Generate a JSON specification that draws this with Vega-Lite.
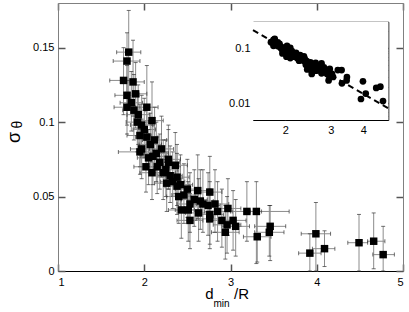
{
  "$schema": "https://vega.github.io/schema/vega-lite/v6.json",
  "autosize": {"type": "none"},
  "width": 345,
  "height": 268,
  "padding": {"left": 58, "top": 3, "right": 6, "bottom": 41},
  "background": "white",
  "config": {
    "view": {"stroke": null},
    "axis": {"labelFont": "Liberation Sans", "titleFont": "Liberation Sans", "labelColor": "#000", "titleColor": "#000", "grid": false, "titleFontWeight": "normal", "domainColor": "#808080", "labelFontSize": 11}
  },
  "datasets": {
    "d": [
      {"x": 1.82, "y": 0.147, "xl": 1.68, "xh": 1.96, "yl": 0.120, "yh": 0.175},
      {"x": 1.80, "y": 0.141, "xl": 1.64, "xh": 1.95, "yl": 0.118, "yh": 0.160},
      {"x": 1.76, "y": 0.128, "xl": 1.60, "xh": 1.88, "yl": 0.105, "yh": 0.150},
      {"x": 1.87, "y": 0.127, "xl": 1.74, "xh": 2.00, "yl": 0.104, "yh": 0.155},
      {"x": 1.80, "y": 0.118, "xl": 1.66, "xh": 1.94, "yl": 0.098, "yh": 0.138},
      {"x": 1.90, "y": 0.119, "xl": 1.78, "xh": 2.03, "yl": 0.096, "yh": 0.140},
      {"x": 1.80, "y": 0.110, "xl": 1.65, "xh": 1.95, "yl": 0.092, "yh": 0.128},
      {"x": 1.88, "y": 0.108, "xl": 1.75, "xh": 2.01, "yl": 0.088, "yh": 0.132},
      {"x": 1.93, "y": 0.105, "xl": 1.80, "xh": 2.06, "yl": 0.085, "yh": 0.125},
      {"x": 2.03, "y": 0.110, "xl": 1.90, "xh": 2.16, "yl": 0.090, "yh": 0.138},
      {"x": 1.97, "y": 0.098, "xl": 1.84, "xh": 2.10, "yl": 0.078, "yh": 0.118},
      {"x": 2.09, "y": 0.101, "xl": 1.96, "xh": 2.22, "yl": 0.079, "yh": 0.127},
      {"x": 1.95, "y": 0.091, "xl": 1.80, "xh": 2.08, "yl": 0.070, "yh": 0.112},
      {"x": 2.03, "y": 0.090, "xl": 1.90, "xh": 2.16, "yl": 0.072, "yh": 0.110},
      {"x": 1.97, "y": 0.082, "xl": 1.84, "xh": 2.10, "yl": 0.062, "yh": 0.102},
      {"x": 2.07, "y": 0.085, "xl": 1.94, "xh": 2.20, "yl": 0.066, "yh": 0.106},
      {"x": 2.14, "y": 0.079, "xl": 2.00, "xh": 2.28, "yl": 0.060, "yh": 0.100},
      {"x": 2.05, "y": 0.076, "xl": 1.92, "xh": 2.18, "yl": 0.058, "yh": 0.095},
      {"x": 2.28, "y": 0.075, "xl": 2.14, "xh": 2.42, "yl": 0.055, "yh": 0.098},
      {"x": 1.95, "y": 0.080, "xl": 1.70, "xh": 2.10, "yl": 0.065, "yh": 0.095},
      {"x": 2.18, "y": 0.073, "xl": 2.05, "xh": 2.31, "yl": 0.055, "yh": 0.092},
      {"x": 2.28, "y": 0.073, "xl": 2.15, "xh": 2.41, "yl": 0.055, "yh": 0.095},
      {"x": 2.36, "y": 0.071, "xl": 2.22, "xh": 2.50, "yl": 0.052, "yh": 0.093},
      {"x": 2.09, "y": 0.066, "xl": 1.95, "xh": 2.23, "yl": 0.048, "yh": 0.085},
      {"x": 2.22, "y": 0.066, "xl": 2.08, "xh": 2.36, "yl": 0.048, "yh": 0.088},
      {"x": 2.30, "y": 0.064, "xl": 2.16, "xh": 2.44, "yl": 0.046, "yh": 0.084},
      {"x": 2.38, "y": 0.063, "xl": 2.24, "xh": 2.52, "yl": 0.044, "yh": 0.085},
      {"x": 2.26, "y": 0.059, "xl": 2.12, "xh": 2.40, "yl": 0.040, "yh": 0.080},
      {"x": 2.38, "y": 0.057, "xl": 2.24, "xh": 2.52, "yl": 0.038, "yh": 0.079},
      {"x": 2.46, "y": 0.051, "xl": 2.32, "xh": 2.60, "yl": 0.032, "yh": 0.072},
      {"x": 2.62, "y": 0.054, "xl": 2.48, "xh": 2.76, "yl": 0.035, "yh": 0.078},
      {"x": 2.76, "y": 0.053, "xl": 2.62, "xh": 2.90, "yl": 0.034, "yh": 0.077},
      {"x": 2.53, "y": 0.045, "xl": 2.38, "xh": 2.68, "yl": 0.026, "yh": 0.066},
      {"x": 2.43, "y": 0.041, "xl": 2.28, "xh": 2.58, "yl": 0.022, "yh": 0.062},
      {"x": 2.51, "y": 0.041, "xl": 2.36, "xh": 2.66, "yl": 0.020, "yh": 0.060},
      {"x": 2.63, "y": 0.039, "xl": 2.48, "xh": 2.78, "yl": 0.020, "yh": 0.062},
      {"x": 2.68, "y": 0.045, "xl": 2.54, "xh": 2.82, "yl": 0.026, "yh": 0.068},
      {"x": 2.74, "y": 0.044, "xl": 2.60, "xh": 2.88, "yl": 0.024, "yh": 0.066},
      {"x": 2.82, "y": 0.045, "xl": 2.66, "xh": 2.98, "yl": 0.026, "yh": 0.068},
      {"x": 2.76, "y": 0.038, "xl": 2.60, "xh": 2.92, "yl": 0.018, "yh": 0.060},
      {"x": 2.76, "y": 0.035, "xl": 2.60, "xh": 2.92, "yl": 0.015, "yh": 0.055},
      {"x": 2.53, "y": 0.034, "xl": 2.38, "xh": 2.68, "yl": 0.015, "yh": 0.052},
      {"x": 2.97, "y": 0.042, "xl": 2.82, "xh": 3.12, "yl": 0.024, "yh": 0.062},
      {"x": 2.90, "y": 0.034, "xl": 2.74, "xh": 3.06, "yl": 0.016, "yh": 0.055},
      {"x": 2.96, "y": 0.031, "xl": 2.80, "xh": 3.12, "yl": 0.012, "yh": 0.050},
      {"x": 3.03, "y": 0.034, "xl": 2.88, "xh": 3.18, "yl": 0.014, "yh": 0.054},
      {"x": 3.06, "y": 0.030, "xl": 2.90, "xh": 3.22, "yl": 0.010, "yh": 0.048},
      {"x": 2.94, "y": 0.026, "xl": 2.78, "xh": 3.10, "yl": 0.008, "yh": 0.044},
      {"x": 3.19, "y": 0.040, "xl": 3.02, "xh": 3.36, "yl": 0.020, "yh": 0.060},
      {"x": 3.30, "y": 0.040, "xl": 3.23, "xh": 3.68, "yl": 0.005, "yh": 0.060},
      {"x": 3.31, "y": 0.023, "xl": 3.15, "xh": 3.47, "yl": 0.006, "yh": 0.040},
      {"x": 3.46, "y": 0.030, "xl": 3.28, "xh": 3.64, "yl": 0.007, "yh": 0.044},
      {"x": 3.45, "y": 0.026, "xl": 3.28, "xh": 3.62, "yl": 0.010, "yh": 0.044},
      {"x": 3.99, "y": 0.025, "xl": 3.82, "xh": 4.16, "yl": 0.000, "yh": 0.046},
      {"x": 3.92, "y": 0.012, "xl": 3.79, "xh": 4.05, "yl": 0.000, "yh": 0.025},
      {"x": 4.09, "y": 0.015, "xl": 3.95, "xh": 4.21, "yl": 0.003, "yh": 0.027},
      {"x": 4.49, "y": 0.019, "xl": 4.36, "xh": 4.59, "yl": 0.000, "yh": 0.038},
      {"x": 4.66, "y": 0.020, "xl": 4.59, "xh": 4.79, "yl": 0.0015, "yh": 0.039},
      {"x": 4.77, "y": 0.011, "xl": 4.65, "xh": 4.90, "yl": 0.000, "yh": 0.030},
      {"x": 2.00, "y": 0.095, "xl": 1.87, "xh": 2.13, "yl": 0.076, "yh": 0.116},
      {"x": 2.12, "y": 0.088, "xl": 1.98, "xh": 2.26, "yl": 0.068, "yh": 0.110},
      {"x": 2.20, "y": 0.082, "xl": 2.06, "xh": 2.34, "yl": 0.063, "yh": 0.104},
      {"x": 2.02, "y": 0.070, "xl": 1.88, "xh": 2.16, "yl": 0.053, "yh": 0.088},
      {"x": 2.15, "y": 0.070, "xl": 2.01, "xh": 2.29, "yl": 0.052, "yh": 0.090},
      {"x": 2.25, "y": 0.068, "xl": 2.11, "xh": 2.39, "yl": 0.050, "yh": 0.088},
      {"x": 2.33, "y": 0.060, "xl": 2.19, "xh": 2.47, "yl": 0.042, "yh": 0.080},
      {"x": 2.42, "y": 0.058, "xl": 2.28, "xh": 2.56, "yl": 0.040, "yh": 0.078},
      {"x": 2.50, "y": 0.055, "xl": 2.36, "xh": 2.64, "yl": 0.036, "yh": 0.075},
      {"x": 2.58, "y": 0.048, "xl": 2.43, "xh": 2.73, "yl": 0.030, "yh": 0.068},
      {"x": 2.40, "y": 0.050, "xl": 2.26, "xh": 2.54, "yl": 0.032, "yh": 0.070},
      {"x": 1.92, "y": 0.100, "xl": 1.79, "xh": 2.05, "yl": 0.080, "yh": 0.120},
      {"x": 2.10, "y": 0.077, "xl": 1.96, "xh": 2.24, "yl": 0.058, "yh": 0.098},
      {"x": 2.65, "y": 0.047, "xl": 2.50, "xh": 2.80, "yl": 0.028, "yh": 0.068},
      {"x": 2.85, "y": 0.040, "xl": 2.70, "xh": 3.00, "yl": 0.020, "yh": 0.060},
      {"x": 1.85, "y": 0.113, "xl": 1.72, "xh": 1.98, "yl": 0.094, "yh": 0.134}
    ],
    "fit": [
      {"x": 1.5, "y": 0.212},
      {"x": 5.0, "y": 0.0081}
    ],
    "box": [
      {"x1": 1.5, "x2": 5.0, "y1": 0.005, "y2": 0.3}
    ]
  },
  "resolve": {"scale": {"x": "independent", "y": "independent"}, "axis": {"x": "independent", "y": "independent"}},
  "layer": [
    {
      "data": {"name": "d"},
      "mark": {"type": "rule", "color": "#8c8c8c", "strokeWidth": 1},
      "encoding": {
        "x": {"field": "x", "type": "quantitative", "scale": {"domain": [1, 5], "nice": false, "zero": false},
          "axis": {"orient": "bottom", "values": [1, 2, 3, 4, 5], "format": "d", "ticks": false, "domainColor": "#000", "labelPadding": 5,
            "title": "d", "titleFontSize": 15, "titleX": 151, "titleY": 27, "titleAlign": "center", "titleBaseline": "alphabetic"}},
        "y": {"field": "yl", "type": "quantitative", "scale": {"domain": [0, 0.18], "nice": false, "zero": false},
          "axis": {"orient": "left", "values": [0, 0.05, 0.1, 0.15], "format": "~g", "ticks": false, "labelPadding": 4,
            "title": "σ", "titleFontSize": 18, "titleAngle": -90, "titleX": -39, "titleY": 134, "titleAlign": "center", "titleBaseline": "alphabetic"}},
        "y2": {"field": "yh"}
      }
    },
    {
      "data": {"name": "d"},
      "mark": {"type": "rule", "color": "#8c8c8c", "strokeWidth": 1},
      "encoding": {
        "x": {"field": "xl", "type": "quantitative", "scale": {"domain": [1, 5], "nice": false, "zero": false},
          "axis": {"orient": "bottom", "offset": -268, "values": [1, 2, 3, 4, 5], "labels": false, "ticks": true, "tickSize": 7, "tickWidth": 1.5, "tickColor": "#555", "title": null}},
        "x2": {"field": "xh"},
        "y": {"field": "y", "type": "quantitative", "scale": {"domain": [0, 0.18], "nice": false, "zero": false},
          "axis": {"orient": "left", "offset": -345, "values": [0, 0.05, 0.1, 0.15], "labels": false, "ticks": true, "tickSize": 7, "tickWidth": 1.5, "tickColor": "#555", "title": null}}
      }
    },
    {
      "data": {"name": "d"},
      "transform": [{"fold": ["yl", "yh"], "as": ["k", "yc"]}],
      "mark": {"type": "tick", "orient": "horizontal", "color": "#333", "size": 4, "thickness": 1},
      "encoding": {
        "x": {"field": "x", "type": "quantitative", "scale": {"domain": [1, 5], "nice": false, "zero": false},
          "axis": {"orient": "top", "offset": -268, "values": [1, 2, 3, 4, 5], "labels": false, "domain": false, "ticks": true, "tickSize": 7, "tickWidth": 1.5, "tickColor": "#555",
            "title": "min", "titleFontSize": 10, "titleX": 163, "titleY": 35, "titleAlign": "center", "titleBaseline": "alphabetic", "titleAngle": 0}},
        "y": {"field": "yc", "type": "quantitative", "scale": {"domain": [0, 0.18], "nice": false, "zero": false},
          "axis": {"orient": "right", "offset": -345, "values": [0, 0.05, 0.1, 0.15], "labels": false, "domain": false, "ticks": true, "tickSize": 7, "tickWidth": 1.5, "tickColor": "#555",
            "title": "θ", "titleFontSize": 14, "titleAngle": -90, "titleX": -37, "titleY": 121, "titleAlign": "center", "titleBaseline": "alphabetic"}}
      }
    },
    {
      "data": {"name": "d"},
      "transform": [{"fold": ["xl", "xh"], "as": ["k", "xc"]}],
      "mark": {"type": "tick", "orient": "vertical", "color": "#333", "size": 4, "thickness": 1},
      "encoding": {
        "x": {"field": "xc", "type": "quantitative", "scale": {"domain": [1, 5], "nice": false, "zero": false},
          "axis": {"orient": "bottom", "labels": false, "ticks": false, "domain": false,
            "title": "/R", "titleFontSize": 15, "titleX": 183, "titleY": 27, "titleAlign": "center", "titleBaseline": "alphabetic"}},
        "y": {"field": "y", "type": "quantitative", "scale": {"domain": [0, 0.18], "nice": false, "zero": false}, "axis": null}
      }
    },
    {
      "data": {"name": "d"},
      "mark": {"type": "square", "color": "#000", "opacity": 1, "size": 56},
      "encoding": {
        "x": {"field": "x", "type": "quantitative", "scale": {"domain": [1, 5], "nice": false, "zero": false}, "axis": null},
        "y": {"field": "y", "type": "quantitative", "scale": {"domain": [0, 0.18], "nice": false, "zero": false}, "axis": null}
      }
    },
    {
      "data": {"name": "box"},
      "mark": {"type": "rect", "fill": "white"},
      "encoding": {
        "x": {"field": "x1", "type": "quantitative", "scale": {"type": "log", "domain": [1.5, 5], "range": [195, 330.3], "nice": false},
          "axis": {"orient": "bottom", "offset": -151, "values": [2, 3, 4], "format": "d", "ticks": false, "domainColor": "#000", "labelPadding": 4, "title": null}},
        "x2": {"field": "x2"},
        "y": {"field": "y1", "type": "quantitative", "scale": {"type": "log", "domain": [0.005, 0.3], "range": [117, 18.7], "nice": false},
          "axis": {"orient": "left", "offset": -195, "values": [0.01, 0.1], "format": "~g", "ticks": false, "domainColor": "#000", "labelPadding": 3, "title": null}},
        "y2": {"field": "y2"}
      }
    },
    {
      "data": {"name": "fit"},
      "mark": {"type": "line", "color": "#000", "strokeWidth": 2, "strokeDash": [6, 4]},
      "encoding": {
        "x": {"field": "x", "type": "quantitative", "scale": {"type": "log", "domain": [1.5, 5], "range": [195, 330.3], "nice": false},
          "axis": {"orient": "bottom", "offset": -249.3, "values": [2, 3, 4], "labels": false, "ticks": true, "tickSize": 5, "tickWidth": 1.5, "domainColor": "#000", "tickColor": "#222", "title": null}},
        "y": {"field": "y", "type": "quantitative", "scale": {"type": "log", "domain": [0.005, 0.3], "range": [117, 18.7], "nice": false},
          "axis": {"orient": "left", "offset": -330.3, "values": [0.01, 0.1], "labels": false, "ticks": true, "tickSize": 5, "tickWidth": 1.5, "domainColor": "#000", "tickColor": "#222", "title": null}}
      }
    },
    {
      "data": {"name": "d"},
      "transform": [{"filter": "datum.x < 2.2"}],
      "mark": {"type": "circle", "color": "#000", "opacity": 1, "size": 45},
      "encoding": {
        "x": {"field": "x", "type": "quantitative", "scale": {"type": "log", "domain": [1.5, 5], "range": [195, 330.3], "nice": false},
          "axis": {"orient": "top", "offset": -117, "values": [2, 3, 4], "labels": false, "domain": false, "ticks": true, "tickSize": 5, "tickWidth": 1.5, "tickColor": "#222", "title": null}},
        "y": {"field": "y", "type": "quantitative", "scale": {"type": "log", "domain": [0.005, 0.3], "range": [117, 18.7], "nice": false},
          "axis": {"orient": "right", "offset": -150, "values": [0.01, 0.1], "labels": false, "domain": false, "ticks": true, "tickSize": 5, "tickWidth": 1.5, "tickColor": "#222", "title": null}}
      }
    },
    {
      "data": {"name": "d"},
      "transform": [{"filter": "datum.x >= 2.2 && datum.x < 2.7"}],
      "mark": {"type": "circle", "color": "#000", "opacity": 1, "size": 45},
      "encoding": {
        "x": {"field": "x", "type": "quantitative", "scale": {"type": "log", "domain": [1.5, 5], "range": [195, 330.3], "nice": false}, "axis": null},
        "y": {"field": "y", "type": "quantitative", "scale": {"type": "log", "domain": [0.005, 0.3], "range": [117, 18.7], "nice": false},
          "axis": {"orient": "right", "offset": -150, "values": [0.006, 0.007, 0.008, 0.009, 0.02, 0.03, 0.04, 0.05, 0.06, 0.07, 0.08, 0.09, 0.2, 0.3], "labels": false, "domain": false, "ticks": true, "tickSize": 3, "tickWidth": 1, "tickColor": "#333", "title": null}}
      }
    },
    {
      "data": {"name": "d"},
      "transform": [{"filter": "datum.x >= 2.7"}],
      "mark": {"type": "circle", "color": "#000", "opacity": 1, "size": 45},
      "encoding": {
        "x": {"field": "x", "type": "quantitative", "scale": {"type": "log", "domain": [1.5, 5], "range": [195, 330.3], "nice": false}, "axis": null},
        "y": {"field": "y", "type": "quantitative", "scale": {"type": "log", "domain": [0.005, 0.3], "range": [117, 18.7], "nice": false},
          "axis": {"orient": "left", "offset": -330.3, "values": [0.006, 0.007, 0.008, 0.009, 0.02, 0.03, 0.04, 0.05, 0.06, 0.07, 0.08, 0.09, 0.2, 0.3], "labels": false, "domain": false, "ticks": true, "tickSize": 3, "tickWidth": 1, "tickColor": "#333", "title": null}}
      }
    }
  ]
}
